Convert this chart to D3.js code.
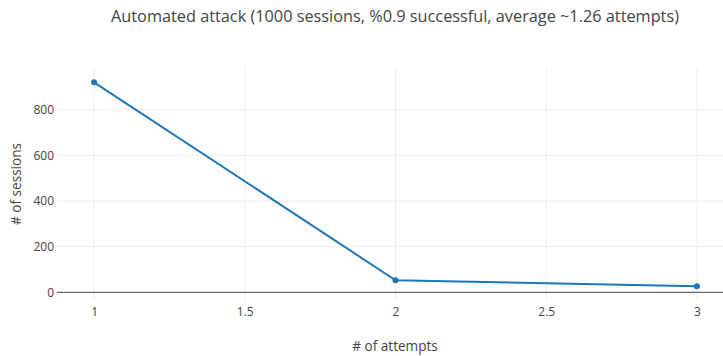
<!DOCTYPE html>
<html>
<head>
<meta charset="utf-8">
<script src="https://cdn.jsdelivr.net/npm/d3@7"></script>
<style>
  html, body { margin: 0; padding: 0; background: #fff; }
  svg { display: block; font-family: "Open Sans", sans-serif; }
</style>
</head>
<body>
<svg id="chart" width="723" height="356"></svg>
<script>
const attempts = [1, 2, 3];
const sessions = [920, 53, 27];
const xTicks = [1, 1.5, 2, 2.5, 3];
const yTicks = [0, 200, 400, 600, 800];
const titleText = "Automated attack (1000 sessions, %0.9 successful, average ~1.26 attempts)";
const xTitle = "# of attempts";
const yTitle = "# of sessions";

const svg = d3.select("#chart");
const plot = { left: 57, right: 734, top: 67, bottom: 301 };

const x = d3.scaleLinear().domain([0.877, 3.123]).range([plot.left, plot.right]);
const y = d3.scaleLinear().domain([-38, 987]).range([plot.bottom, plot.top]);

const g = svg.append("g");

// vertical grid
g.append("g").selectAll("line").data(xTicks).join("line")
  .attr("x1", d => x(d)).attr("x2", d => x(d))
  .attr("y1", plot.top).attr("y2", plot.bottom)
  .attr("stroke", "#eee").attr("stroke-width", 1);

// horizontal grid
g.append("g").selectAll("line").data(yTicks.filter(d => d !== 0)).join("line")
  .attr("x1", plot.left).attr("x2", plot.right)
  .attr("y1", d => y(d)).attr("y2", d => y(d))
  .attr("stroke", "#eee").attr("stroke-width", 1);

// zero line
g.append("line")
  .attr("x1", plot.left).attr("x2", plot.right)
  .attr("y1", y(0)).attr("y2", y(0))
  .attr("stroke", "#444").attr("stroke-width", 1);

// x tick labels
const xAxis = d3.axisBottom(x).tickValues(xTicks).tickSize(0).tickPadding(0)
  .tickFormat(d => String(d));
const xa = svg.append("g").attr("transform", `translate(0,${plot.bottom + 15})`).call(xAxis);
xa.select(".domain").remove();
xa.selectAll("text").attr("fill", "#444").attr("font-size", 12)
  .attr("font-family", "'Open Sans', sans-serif").attr("dy", 0);

// y tick labels
const yAxis = d3.axisLeft(y).tickValues(yTicks).tickSize(0).tickPadding(0)
  .tickFormat(d => String(d));
const ya = svg.append("g").attr("transform", `translate(${plot.left - 3},0)`).call(yAxis);
ya.select(".domain").remove();
ya.selectAll("text").attr("fill", "#444").attr("font-size", 12)
  .attr("font-family", "'Open Sans', sans-serif");

// line
const line = d3.line().x((d, i) => x(attempts[i])).y(d => y(d));
svg.append("path").datum(sessions)
  .attr("d", line).attr("fill", "none")
  .attr("stroke", "#1f77b4").attr("stroke-width", 2);

svg.append("g").selectAll("circle").data(sessions).join("circle")
  .attr("cx", (d, i) => x(attempts[i])).attr("cy", d => y(d))
  .attr("r", 3).attr("fill", "#1f77b4");

// titles
svg.append("text").attr("x", 395).attr("y", 22).attr("text-anchor", "middle")
  .attr("font-size", 16.3).attr("fill", "#444").text(titleText);

svg.append("text").attr("x", 395).attr("y", 351).attr("text-anchor", "middle")
  .attr("font-size", 13.6).attr("fill", "#444").text(xTitle);

svg.append("text").attr("transform", `translate(21,${(plot.top + plot.bottom) / 2}) rotate(-90)`)
  .attr("text-anchor", "middle").attr("font-size", 13.6).attr("fill", "#444").text(yTitle);
</script>
</body>
</html>
